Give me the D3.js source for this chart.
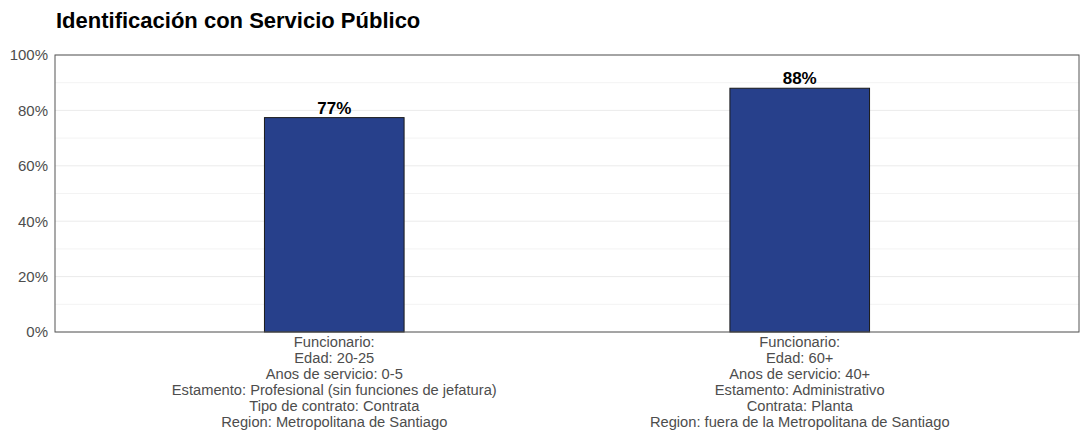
<!DOCTYPE html>
<html>
<head>
<meta charset="utf-8">
<script src="https://cdn.jsdelivr.net/npm/d3@7"></script>
<style>
  html, body { margin: 0; padding: 0; background: #fff; }
  svg { display: block; font-family: "Liberation Sans", Arial, sans-serif; }
</style>
</head>
<body>
<svg id="chart" width="1086" height="432"></svg>
<script>
// Chart data
const chartTitle = "Identificación con Servicio Público";
const categories = ["perfil1", "perfil2"];
const categoryLabels = [
  ["Funcionario:", "Edad: 20-25", "Anos de servicio: 0-5",
   "Estamento: Profesional (sin funciones de jefatura)",
   "Tipo de contrato: Contrata", "Region: Metropolitana de Santiago"],
  ["Funcionario:", "Edad: 60+", "Anos de servicio: 40+",
   "Estamento: Administrativo", "Contrata: Planta",
   "Region: fuera de la Metropolitana de Santiago"]
];
const values = [77.4, 88];
const yTicks = [0, 20, 40, 60, 80, 100];
const yMinorTicks = [10, 30, 50, 70, 90];

const svg = d3.select("#chart");
const panel = { left: 55, right: 1079, top: 55, bottom: 332 };

// Discrete axis with ggplot-style expansion (0.6 units on each side)
const xPos = d3.scaleLinear()
  .domain([0.4, categories.length + 0.6])
  .range([panel.left, panel.right]);
const barWidthUnits = 0.3;

const y = d3.scaleLinear().domain([0, 100]).range([panel.bottom, panel.top]);

// Title
svg.append("text")
  .attr("x", 56).attr("y", 28)
  .attr("font-size", 22).attr("font-weight", "bold").attr("fill", "#000")
  .text(chartTitle);

// Grid lines
const grid = svg.append("g");
grid.selectAll("line.minor").data(yMinorTicks).join("line")
  .attr("class", "minor")
  .attr("x1", panel.left).attr("x2", panel.right)
  .attr("y1", d => y(d)).attr("y2", d => y(d))
  .attr("stroke", "#f3f3f3").attr("stroke-width", 1);
grid.selectAll("line.major").data(yTicks).join("line")
  .attr("class", "major")
  .attr("x1", panel.left).attr("x2", panel.right)
  .attr("y1", d => y(d)).attr("y2", d => y(d))
  .attr("stroke", "#ebebeb").attr("stroke-width", 1);

// Y axis labels
const yAxis = d3.axisLeft(y).tickValues(yTicks).tickSize(0).tickPadding(7)
  .tickFormat(d => d + "%");
const yg = svg.append("g").attr("transform", `translate(${panel.left},0)`).call(yAxis);
yg.select(".domain").remove();
yg.selectAll("text").attr("font-size", 15).attr("fill", "#4d4d4d")
  .attr("font-family", "Liberation Sans, Arial, sans-serif");

// Bars
svg.append("g").selectAll("rect").data(values).join("rect")
  .attr("x", (d, i) => xPos(i + 1 - barWidthUnits / 2))
  .attr("width", (d, i) => xPos(i + 1 + barWidthUnits / 2) - xPos(i + 1 - barWidthUnits / 2))
  .attr("y", d => y(d))
  .attr("height", d => y(0) - y(d))
  .attr("fill", "#27408b")
  .attr("stroke", "#1a1a1a").attr("stroke-width", 1);

// Value labels
svg.append("g").selectAll("text").data(values).join("text")
  .attr("x", (d, i) => xPos(i + 1))
  .attr("y", d => y(d) - 4)
  .attr("text-anchor", "middle")
  .attr("font-size", 17).attr("font-weight", "bold").attr("fill", "#000")
  .text(d => d3.format(".0f")(d) + "%");

// Panel border
svg.append("rect")
  .attr("x", panel.left).attr("y", panel.top)
  .attr("width", panel.right - panel.left).attr("height", panel.bottom - panel.top)
  .attr("fill", "none").attr("stroke", "#555").attr("stroke-width", 1);

// Category labels (multi-line)
const xl = svg.append("g").selectAll("text").data(categoryLabels).join("text")
  .attr("x", (d, i) => xPos(i + 1))
  .attr("y", panel.bottom + 15)
  .attr("text-anchor", "middle")
  .attr("font-size", 14.7).attr("fill", "#4d4d4d");
xl.selectAll("tspan").data((d, i) => d.map(s => ({ s, i }))).join("tspan")
  .attr("x", d => xPos(d.i + 1))
  .attr("dy", (d, j) => j === 0 ? 0 : 16)
  .text(d => d.s);
</script>
</body>
</html>
